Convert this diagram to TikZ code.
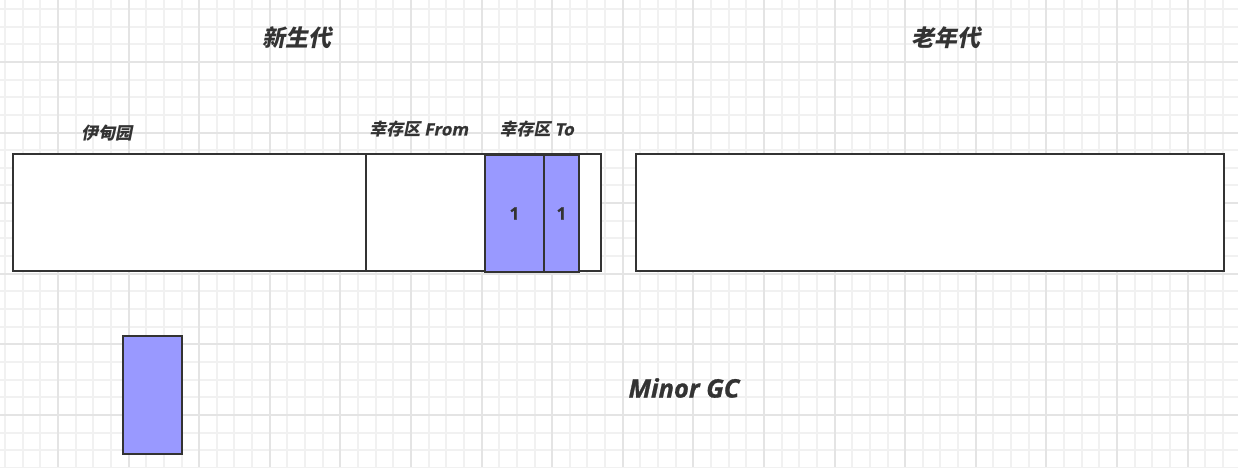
\documentclass[tikz,border=0pt]{standalone}
\usepackage{fontspec}
\newfontfamily\cjk{Noto Sans CJK SC}
\newfontfamily\lat[FakeBold=1]{Open Sans}
\definecolor{gridminor}{RGB}{241,241,241}
\definecolor{gridmajor}{RGB}{228,228,228}
\definecolor{boxline}{RGB}{51,51,51}
\definecolor{blockfill}{RGB}{153,153,255}
\definecolor{txt}{RGB}{51,51,51}
\begin{document}
\begin{tikzpicture}[x=1pt,y=-1pt,
  region/.style={draw=boxline,fill=white,line width=2pt},
  block/.style={draw=boxline,fill=blockfill,line width=2pt},
  slanted/.style={xslant=0.2,transform shape},
  title/.style={text=txt,font=\cjk\bfseries\fontsize{23}{23}\selectfont,inner sep=0pt,slanted},
  label/.style={text=txt,font=\cjk\bfseries\fontsize{17}{17}\selectfont,inner sep=0pt,slanted},
  num/.style={text=txt,font=\lat\bfseries\fontsize{17}{17}\selectfont,inner sep=0pt},
  big/.style={text=txt,font=\lat\bfseries\itshape\fontsize{25.5}{25.5}\selectfont,inner sep=0pt}]
\useasboundingbox (0,0) rectangle (1238,467);
\fill[white] (0,0) rectangle (1238,467);
% grid
\foreach \i in {0,...,70} {
  \pgfmathsetmacro{\gx}{round(5.05+17.65*\i)}
  \draw[gridminor,line width=1.1pt] (\gx,0) -- (\gx,467);
}
\foreach \i in {0,...,26} {
  \pgfmathsetmacro{\gy}{round(9+17.65*\i)}
  \draw[gridminor,line width=1.1pt] (0,\gy) -- (1238,\gy);
}
\foreach \i in {0,...,17} {
  \pgfmathsetmacro{\gx}{round(58-70.6+70.6*\i)}
  \draw[gridmajor,line width=1.3pt] (\gx,0) -- (\gx,467);
}
\foreach \i in {0,...,6} {
  \pgfmathsetmacro{\gy}{round(62-70.6+70.6*\i)}
  \draw[gridmajor,line width=1.3pt] (0,\gy) -- (1238,\gy);
}
% titles
\node[title] (tyoung) at (299,38) {新生代};
\node[title] (told) at (948,38) {老年代};
\node[label] (teden) at (108,133) {伊甸园};
\node[label] (tfrom) at (420,129) {幸存区 {\lat\bfseries From}};
\node[label] (tto) at (538,129) {幸存区 {\lat\bfseries To}};
% young generation
\draw[region] (13,154) rectangle (601,271);
\node[block,minimum width=59pt,minimum height=117pt,inner sep=0pt,anchor=north west] (b1) at (484,154) {};
\node[block,minimum width=35pt,minimum height=117pt,inner sep=0pt,anchor=north west] (b2) at (543,154) {};
\draw[region,fill=none] (366,154) -- (366,271);
\node[num] (n1) at (b1.center) {1};
\node[num] (n2) at (b2.center) {1};
% old generation
\draw[region] (636,154) rectangle (1224,271);
% new object
\node[block,minimum width=59pt,minimum height=118pt,inner sep=0pt,anchor=north west] (obj) at (122,335) {};
\node[big] (gc) at (684,388) {Minor GC};
\end{tikzpicture}
\end{document}
